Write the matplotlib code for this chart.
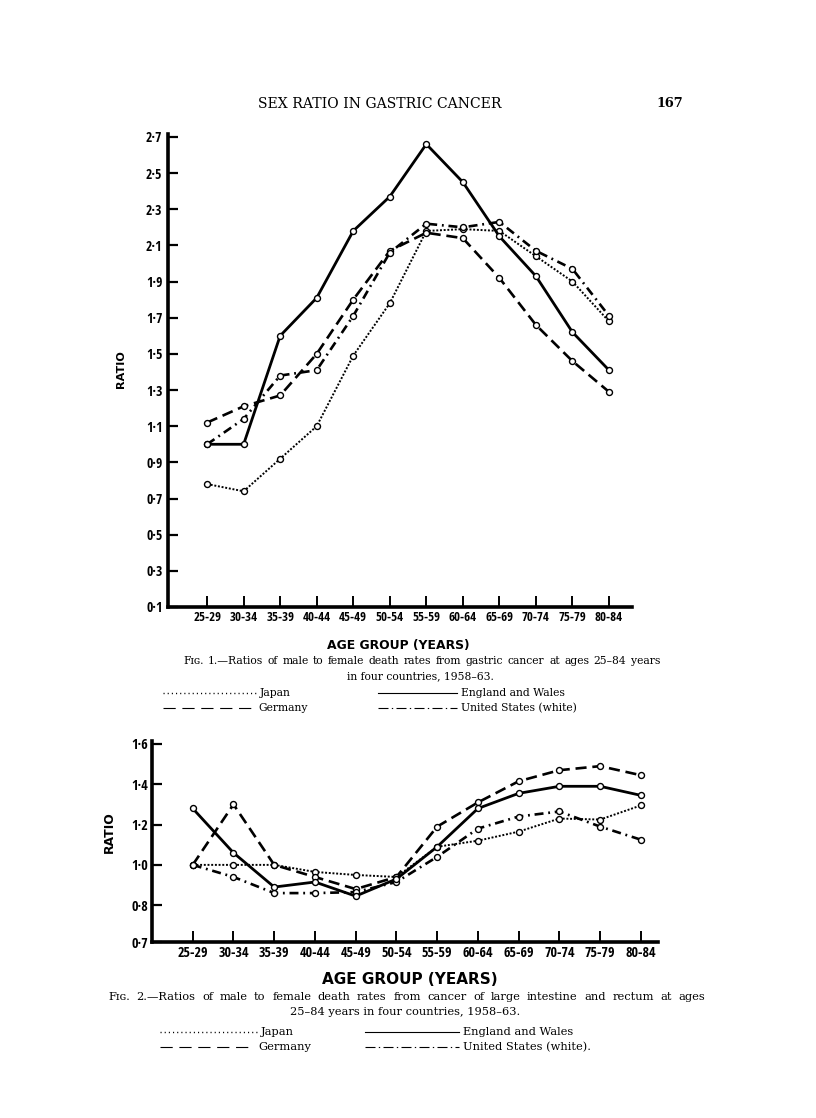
import matplotlib
matplotlib.use("Agg")
import matplotlib.pyplot as plt
from matplotlib.lines import Line2D
from matplotlib import font_manager as fm

# ---------------- data ----------------
age_groups = ["25-29", "30-34", "35-39", "40-44", "45-49", "50-54",
              "55-59", "60-64", "65-69", "70-74", "75-79", "80-84"]

# Fig. 1 - gastric cancer
g_japan   = [0.78, 0.74, 0.92, 1.10, 1.49, 1.78, 2.18, 2.19, 2.18, 2.04, 1.90, 1.68]
g_england = [1.00, 1.00, 1.60, 1.81, 2.18, 2.37, 2.66, 2.45, 2.15, 1.93, 1.62, 1.41]
g_germany = [1.12, 1.21, 1.27, 1.50, 1.80, 2.07, 2.17, 2.14, 1.92, 1.66, 1.46, 1.29]
g_usa     = [1.00, 1.14, 1.38, 1.41, 1.71, 2.06, 2.22, 2.20, 2.23, 2.07, 1.97, 1.71]
g_yticks  = [0.1, 0.3, 0.5, 0.7, 0.9, 1.1, 1.3, 1.5, 1.7, 1.9, 2.1, 2.3, 2.5, 2.7]

# Fig. 2 - large intestine and rectum
c_japan   = [1.00, 1.00, 1.00, 0.965, 0.95, 0.94, 1.09, 1.12, 1.165, 1.23, 1.225, 1.295]
c_england = [1.28, 1.06, 0.89, 0.915, 0.845, 0.93, 1.09, 1.28, 1.355, 1.39, 1.39, 1.345]
c_germany = [1.00, 1.30, 1.00, 0.94, 0.88, 0.94, 1.19, 1.31, 1.415, 1.47, 1.49, 1.445]
c_usa     = [1.00, 0.94, 0.86, 0.86, 0.865, 0.915, 1.04, 1.18, 1.24, 1.265, 1.19, 1.125]
c_yticks  = [0.8, 1.0, 1.2, 1.4, 1.6]
c_base_label = "0·7"

header_text = "SEX RATIO IN GASTRIC CANCER"
page_number = "167"
cap1 = ["Fɪɢ. 1.—Ratios of male to female death rates from gastric cancer at ages 25–84 years",
        "in four countries, 1958–63."]
cap2 = ["Fɪɢ. 2.—Ratios of male to female death rates from cancer of large intestine and rectum at ages",
        "25–84 years in four countries, 1958–63."]

# ---------------- fonts ----------------
def has_font(name):
    try:
        fm.findfont(fm.FontProperties(family=name), fallback_to_default=False)
        return True
    except Exception:
        return False


narrow = None
for cand in ["DejaVu Sans Condensed", "Liberation Sans Narrow",
             "Open Sans Condensed", "Roboto Condensed"]:
    if has_font(cand):
        narrow = cand
        break
tick_family = [narrow, "DejaVu Sans"] if narrow else ["DejaVu Sans"]
tick_font = dict(family=tick_family, weight="bold")
lab_font = dict(family=["DejaVu Sans"], weight="bold")
serif = ["DejaVu Serif"]

# ---------------- figure ----------------
W, H = 816, 1118
fig = plt.figure(figsize=(W / 100, H / 100), dpi=100)
fig.patch.set_facecolor("white")
renderer = fig.canvas.get_renderer()


def fx(px):
    return px / W


def fy(py):
    return 1 - py / H


def text_width(s, size, **kw):
    t = fig.text(0, 0, s, fontsize=size, **kw)
    w = t.get_window_extent(renderer).width
    t.remove()
    return w


def fit_size(s, target_px, **kw):
    return 10.0 * target_px / text_width(s, 10.0, **kw)


styles = {
    "japan":   dict(linestyle=(0, (1.0, 0.9)), linewidth=1.4),
    "england": dict(linestyle="-", linewidth=2.0),
    "germany": dict(linestyle=(0, (4.2, 2.2)), linewidth=1.9),
    "usa":     dict(linestyle=(0, (3.4, 1.8, 0.7, 1.8)), linewidth=1.9),
}
mk = dict(marker="o", markersize=4.3, markerfacecolor="white",
          markeredgecolor="black", markeredgewidth=1.0, color="black")

# tick label sizes
if narrow:
    xt1, xt2, yt1, yt2 = 9.3, 10.2, 9.8, 10.2
else:
    xt1, xt2, yt1, yt2 = 6.8, 7.6, 7.5, 8.0


def setup_axes(ax, yticks, ylabels, fs_y, xlim, ylim, fs_x, ypad):
    ax.set_xlim(*xlim)
    ax.set_ylim(*ylim)
    for s in ("top", "right"):
        ax.spines[s].set_visible(False)
    for s in ("left", "bottom"):
        ax.spines[s].set_linewidth(2.6)
    ax.set_xticks(range(len(age_groups)))
    ax.set_xticklabels(age_groups, fontsize=fs_x, **tick_font)
    ax.set_yticks(yticks)
    ax.set_yticklabels(ylabels, fontsize=fs_y, **tick_font)
    ax.tick_params(axis="y", direction="in", length=7, width=1.6, pad=ypad)
    ax.tick_params(axis="x", direction="in", length=8, width=1.4, pad=3)


def plot_series(ax, series):
    for key, vals in series:
        ax.plot(range(len(vals)), vals, **styles[key], **mk, zorder=3)


# ---------------- Fig. 1 ----------------
ax1 = fig.add_axes([fx(168), fy(607), fx(632) - fx(168), fy(134) - fy(607)])
setup_axes(ax1, g_yticks, [f"{v:.1f}".replace(".", "·") for v in g_yticks],
           yt1, (-1.07, 11.63), (0.1, 0.1 + (607 - 134) / 180.8), xt1, 4)
plot_series(ax1, [("japan", g_japan), ("germany", g_germany),
                  ("usa", g_usa), ("england", g_england)])
fig.text(fx(121), fy(369), "RATIO", rotation=90, ha="center", va="center",
         fontsize=fit_size("RATIO", 38, **lab_font), **lab_font)
fig.text(fx(398), fy(645), "AGE GROUP (YEARS)", ha="center", va="center",
         fontsize=fit_size("AGE GROUP (YEARS)", 144, **lab_font), **lab_font)

# ---------------- Fig. 2 ----------------
c_bottom = 0.8 - (942 - 905) / 202.5
ax2 = fig.add_axes([fx(152), fy(942), fx(658) - fx(152), fy(741) - fy(942)])
setup_axes(ax2, [c_bottom] + c_yticks,
           [c_base_label] + [f"{v:.1f}".replace(".", "·") for v in c_yticks],
           yt2, (-1.0, 11.42), (c_bottom, 1.6 + 3 / 202.5), xt2, 3)
plot_series(ax2, [("japan", c_japan), ("germany", c_germany),
                  ("usa", c_usa), ("england", c_england)])
fig.text(fx(109), fy(832), "RATIO", rotation=90, ha="center", va="center",
         fontsize=fit_size("RATIO", 42, **lab_font), **lab_font)
fig.text(fx(410), fy(980), "AGE GROUP (YEARS)", ha="center", va="center",
         fontsize=fit_size("AGE GROUP (YEARS)", 176, **lab_font), **lab_font)

# ---------------- page text ----------------
fig.text(fx(258), fy(104), header_text, ha="left", va="center",
         fontsize=fit_size(header_text, 243, family=serif), family=serif)
fig.text(fx(683), fy(104), page_number, ha="right", va="center",
         fontsize=fit_size(page_number, 27, family=serif, weight="bold"),
         family=serif, weight="bold")

cap_size = fit_size(cap1[0], 470, family=serif)


def justified(line, x0, x1, y, size):
    words = line.split(" ")
    widths = [text_width(w, size, family=serif) for w in words]
    gap = ((x1 - x0) - sum(widths)) / (len(words) - 1)
    x = x0
    for w, wd in zip(words, widths):
        fig.text(fx(x), fy(y), w, ha="left", va="center", fontsize=size,
                 family=serif)
        x += wd + gap


justified(cap1[0], 183, 660, 661, cap_size)
fig.text(fx(420), fy(676), cap1[1], ha="center", va="center",
         fontsize=cap_size, family=serif)
cap2_size = min(cap_size * 1.05, fit_size(cap2[0], 575, family=serif))
justified(cap2[0], 108, 705, 997, cap2_size)
fig.text(fx(405), fy(1012), cap2[1], ha="center", va="center",
         fontsize=cap2_size, family=serif)

leg_styles = {
    "japan":   dict(linestyle=(0, (0.8, 2.2)), linewidth=1.0),
    "england": dict(linestyle="-", linewidth=0.8),
    "germany": dict(linestyle=(0, (11, 6)), linewidth=0.8),
    "usa":     dict(linestyle=(0, (9, 3, 1.2, 3)), linewidth=0.8),
}


def legend_item(x0, x1, y, key, label, size):
    fig.add_artist(Line2D([fx(x0), fx(x1)], [fy(y), fy(y)], color="black",
                          transform=fig.transFigure, **leg_styles[key]))
    fig.text(fx(x1 + 4), fy(y), label, ha="left", va="center",
             fontsize=size, family=serif)


# legend for Fig. 1
legend_item(163, 256, 693, "japan", "Japan", cap_size)
legend_item(378, 457, 693, "england", "England and Wales", cap_size)
legend_item(163, 254, 708, "germany", "Germany", cap_size)
legend_item(378, 457, 708, "usa", "United States (white)", cap_size)

# legend for Fig. 2
legend_item(160, 257, 1032, "japan", "Japan", cap2_size)
legend_item(365, 459, 1032, "england", "England and Wales", cap2_size)
legend_item(160, 254, 1047, "germany", "Germany", cap2_size)
legend_item(365, 459, 1047, "usa", "United States (white).", cap2_size)

fig.savefig("out.png", dpi=100, facecolor="white")
